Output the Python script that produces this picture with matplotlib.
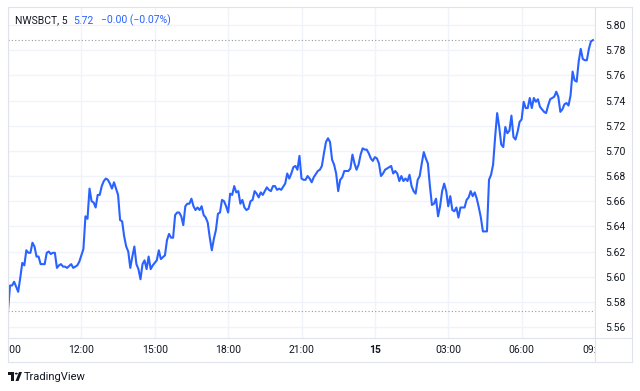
import matplotlib
matplotlib.use("Agg")
import matplotlib.pyplot as plt
import matplotlib.transforms as mtransforms
from matplotlib.patches import Rectangle, Polygon, Circle
from matplotlib.lines import Line2D
import pandas as pd

plt.rcParams['font.family'] = ['Roboto', 'DejaVu Sans']

# header
symbol = "NWSBCT, 5"
last_text = "5.72"
change_text = "\u22120.00 (\u22120.07%)"

# 5 minute bars from 09:00 on the 14th to 09:00 on the 15th
session_start = pd.Timestamp("2024-03-14 09:00")
bar_minutes = 5
bars = [*range(0, 30), 31, 32, *range(34, 76), *range(77, 135), *range(136, 151),
        *range(152, 166), *range(167, 187), *range(188, 234), *range(235, 288)]

prices_morning = [
    5.573, 5.593, 5.593, 5.596, 5.592, 5.588, 5.599, 5.611, 5.609, 5.621,
    5.619, 5.619, 5.627, 5.624, 5.616, 5.616, 5.610, 5.610, 5.610, 5.619,
    5.620, 5.618, 5.619, 5.619, 5.607, 5.609, 5.610, 5.608, 5.608, 5.607,
    5.610, 5.607, 5.609, 5.612, 5.617, 5.622, 5.648, 5.646, 5.670, 5.660,
    5.659, 5.655, 5.665, 5.665, 5.672, 5.676, 5.678, 5.677, 5.674, 5.670,
    5.675, 5.670, 5.665, 5.645, 5.644,
]
prices_afternoon = [
    5.632, 5.624, 5.620, 5.607, 5.616, 5.624, 5.610, 5.606, 5.598, 5.610,
    5.613, 5.606, 5.616, 5.606, 5.609, 5.611, 5.613, 5.621, 5.614, 5.617,
    5.629, 5.634, 5.631, 5.631, 5.649, 5.651, 5.651, 5.648, 5.641, 5.656,
    5.658, 5.658, 5.662, 5.656, 5.653, 5.655, 5.653, 5.656, 5.649, 5.647,
    5.643, 5.631, 5.621, 5.630, 5.637, 5.650, 5.651, 5.661, 5.660, 5.656,
    5.651, 5.666, 5.665, 5.672, 5.667, 5.668,
]
prices_evening = [
    5.658, 5.661, 5.655, 5.653, 5.654, 5.660, 5.661, 5.668, 5.666, 5.663,
    5.667, 5.665, 5.668, 5.671, 5.669, 5.668, 5.672, 5.672, 5.669, 5.670,
    5.669, 5.674, 5.682, 5.678, 5.682, 5.687, 5.688, 5.685, 5.696, 5.678,
    5.677, 5.677, 5.680, 5.678, 5.675, 5.679, 5.684, 5.685, 5.688, 5.698,
    5.707, 5.710, 5.707, 5.693, 5.689, 5.682, 5.668, 5.677, 5.679, 5.684,
    5.684, 5.686, 5.697, 5.690, 5.685, 5.689, 5.697,
]
prices_night = [
    5.702, 5.701, 5.701, 5.698, 5.694, 5.692, 5.695, 5.694, 5.690, 5.680,
    5.682, 5.685, 5.686, 5.688, 5.682, 5.684, 5.682, 5.676, 5.680, 5.676,
    5.678, 5.676, 5.681, 5.672, 5.668, 5.666, 5.677, 5.680, 5.690, 5.699,
    5.694, 5.690, 5.672, 5.657, 5.658, 5.662, 5.648, 5.656, 5.668, 5.674,
    5.668, 5.656, 5.664, 5.653, 5.652, 5.655, 5.647, 5.655, 5.655, 5.655,
    5.661, 5.663, 5.668, 5.664, 5.667, 5.662, 5.655, 5.647,
]
prices_early = [
    5.636, 5.636, 5.677, 5.681, 5.689, 5.711, 5.730, 5.719, 5.705, 5.703,
    5.719, 5.714, 5.716, 5.728, 5.711, 5.709, 5.715, 5.723, 5.725, 5.739,
    5.734, 5.734, 5.742, 5.734, 5.742, 5.739, 5.741, 5.735, 5.733, 5.731,
    5.730, 5.736, 5.741, 5.742, 5.743, 5.747, 5.743, 5.731, 5.733, 5.737,
    5.738, 5.736, 5.744, 5.763, 5.756, 5.755, 5.771, 5.781, 5.773, 5.772,
    5.772, 5.781, 5.787, 5.788,
]
prices = prices_morning + prices_afternoon + prices_evening + prices_night + prices_early

price_ticks = [5.56, 5.58, 5.60, 5.62, 5.64, 5.66, 5.68, 5.70, 5.72, 5.74, 5.76, 5.78, 5.80]
time_ticks = pd.date_range("2024-03-14 09:00", "2024-03-15 09:00", freq="3h")

times = [session_start + pd.Timedelta(minutes=bar_minutes * b) for b in bars]

W, H = 640, 391
fig = plt.figure(figsize=(W / 100, H / 100), dpi=100)


def fx(x):
    return x / W


def fy(y):
    return 1 - y / H


blue = "#2962ff"
text_col = "#131722"
grid_col = "#f0f3fa"
frame_col = "#e0e3eb"

ax = fig.add_axes([fx(8), fy(338), fx(595) - fx(8), fy(7) - fy(338)])
ax.plot(times, prices, color=blue, lw=1.5, solid_joinstyle="round", zorder=3)
ax.axhline(max(prices), color="#9598a1", lw=0.8, ls=(0, (1, 2)), zorder=2)
ax.axhline(min(prices), color="#9598a1", lw=0.8, ls=(0, (1, 2)), zorder=2)

ax.set_xlim(session_start + pd.Timedelta(minutes=1.7), session_start + pd.Timedelta(minutes=1435.5))
ax.set_ylim(5.5513, 5.8143)

ax.set_yticks(price_ticks)
ax.set_yticklabels([f"{p:.2f}" for p in price_ticks])
ax.yaxis.tick_right()
ax.tick_params(axis="y", length=0, pad=7, labelsize=7.5, labelcolor=text_col)
ax.set_xticks(time_ticks)
ax.tick_params(axis="x", length=0, labelbottom=False)
ax.grid(True, color=grid_col, lw=1)
for s in ax.spines.values():
    s.set_visible(False)

# time labels strip, clipped at the edges like the original
tax = fig.add_axes([fx(8), fy(362), fx(595) - fx(8), fy(338) - fy(362)], sharex=ax)
tax.axis("off")
for t in time_ticks:
    is_day = t.hour == 0
    label = t.strftime("%d") if is_day else t.strftime("%H:%M")
    tax.text(t, 0.5, label, ha="center", va="center", fontsize=7.5, color=text_col,
             fontweight="bold" if is_day else "normal", clip_on=True,
             transform=mtransforms.blended_transform_factory(tax.transData, tax.transAxes))

# frame
for x0, y0, x1, y1 in [(8, 7, 632, 7), (8, 362, 632, 362), (8, 7, 8, 362), (632, 7, 632, 362),
                       (595, 7, 595, 362), (8, 338, 632, 338)]:
    fig.add_artist(Line2D([fx(x0), fx(x1)], [fy(y0), fy(y1)], color=frame_col, lw=0.8))

# header, laid out one piece after another
renderer = fig.canvas.get_renderer()
x = 15
for txt, col, gap in [(symbol, text_col, 6), (last_text, blue, 7), (change_text, blue, 0)]:
    t = fig.text(fx(x), fy(20.5), txt, fontsize=7.5, color=col, va="center")
    x = t.get_window_extent(renderer).x1 + gap

# TradingView logo
logo = "#131722"
fig.add_artist(Rectangle((fx(8), fy(375)), fx(14) - fx(8), fy(372) - fy(375), color=logo, lw=0))
fig.add_artist(Rectangle((fx(11), fy(381)), fx(14) - fx(11), fy(372) - fy(381), color=logo, lw=0))
fig.add_artist(Circle((fx(16.3), fy(373.6)), 1.5 / W, color=logo, lw=0))
fig.add_artist(Polygon([(fx(15.5), fy(381)), (fx(18.5), fy(381)), (fx(22), fy(372)), (fx(19), fy(372))],
                       closed=True, color=logo, lw=0))
fig.text(fx(24), fy(377), "TradingView", fontsize=8, color=text_col, va="center")

fig.savefig("out.png", dpi=100, facecolor="white")
